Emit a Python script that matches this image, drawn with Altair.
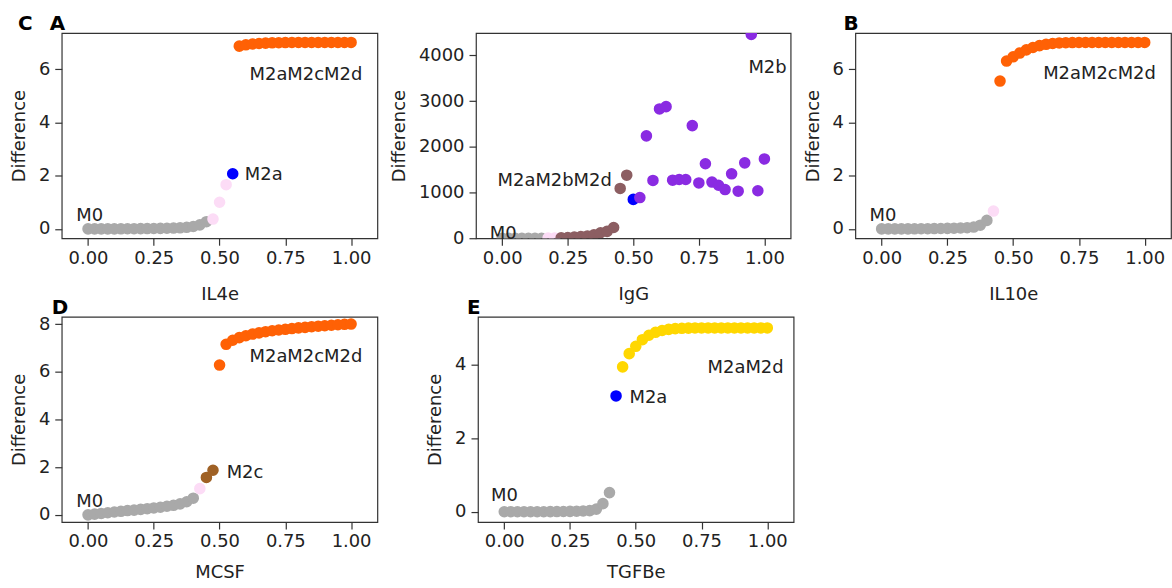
import altair as alt
import pandas as pd

# shared x grid (fraction of stimulus)
X = [0.0, 0.025, 0.05, 0.075, 0.1, 0.125, 0.15, 0.175, 0.2, 0.225, 0.25, 0.275,
     0.3, 0.325, 0.35, 0.375, 0.4, 0.425, 0.45, 0.475, 0.5, 0.525, 0.55, 0.575,
     0.6, 0.625, 0.65, 0.675, 0.7, 0.725, 0.75, 0.775, 0.8, 0.825, 0.85, 0.875,
     0.9, 0.925, 0.95, 0.975, 1.0]

# Panel A : IL4e
IL4_Y = [0.0, 0.0, 0.0, 0.0, 0.002, 0.004, 0.006, 0.008, 0.01, 0.013, 0.016, 0.02,
         0.025, 0.032, 0.042, 0.06, 0.09, 0.15, 0.27,
         0.37, 1.0, 1.66,
         2.07,
         6.86, 6.91, 6.94, 6.96, 6.975, 6.985, 6.99, 6.995,
         7.0, 7.0, 7.0, 7.0, 7.0, 7.0, 7.0, 7.0, 7.0, 7.0]
IL4_C = ["M0"] * 19 + ["T"] * 3 + ["M2a"] + ["M2aM2cM2d"] * 18

# Panel IgG
IGG_Y = [0, 0, 0, 0, 0, 0, 0,
         2, 5,
         10, 15, 25, 35, 50, 75, 120, 150, 235,
         1090, 1380,
         850,
         890, 2240, 1265, 2830, 2880, 1270, 1285, 1285, 2465, 1210, 1630, 1230,
         1160, 1065, 1410, 1030, 1650, 4460, 1040, 1735]
IGG_C = ["M0"] * 7 + ["T"] * 2 + ["M2aM2bM2d"] * 11 + ["M2a"] + ["M2b"] * 20

# Panel B : IL10e
IL10_Y = [0.0, 0.0, 0.0, 0.0, 0.002, 0.004, 0.006, 0.009, 0.012, 0.016, 0.02, 0.026,
          0.034, 0.045, 0.07, 0.14, 0.32,
          0.67,
          5.55, 6.3, 6.46, 6.6, 6.72, 6.81, 6.88, 6.93, 6.96, 6.98, 6.99, 6.995,
          7.0, 7.0, 7.0, 7.0, 7.0, 7.0, 7.0, 7.0, 7.0, 7.0, 7.0]
IL10_C = ["M0"] * 17 + ["T"] + ["M2aM2cM2d"] * 23

# Panel D : MCSF
MCSF_Y = [0.0, 0.03, 0.06, 0.09, 0.12, 0.15, 0.18, 0.2, 0.23, 0.26, 0.29, 0.32,
          0.36, 0.4, 0.46, 0.55, 0.7,
          1.1,
          1.57, 1.87,
          6.28, 7.15, 7.32, 7.43, 7.51, 7.58, 7.63, 7.68, 7.72, 7.75, 7.78, 7.81,
          7.84, 7.86, 7.89, 7.91, 7.93, 7.95, 7.97, 7.99, 8.0]
MCSF_C = ["M0"] * 17 + ["T"] + ["M2c"] * 2 + ["M2aM2cM2d"] * 21

# Panel E : TGFBe
TGF_Y = [0.0, 0.0, 0.0, 0.0, 0.0, 0.0, 0.0, 0.002, 0.004, 0.006, 0.01, 0.015,
         0.02, 0.03, 0.07, 0.22, 0.52,
         3.15,
         3.94, 4.3, 4.5, 4.68, 4.8, 4.88, 4.93, 4.96, 4.98, 4.99, 4.995,
         5.0, 5.0, 5.0, 5.0, 5.0, 5.0, 5.0, 5.0, 5.0, 5.0, 5.0, 5.0]
TGF_C = ["M0"] * 17 + ["M2a"] + ["M2aM2d"] * 23

CATS = ["M0", "T", "M2a", "M2aM2cM2d", "M2b", "M2aM2bM2d", "M2c", "M2aM2d"]
COLS = ["#a9a9a9", "#fcdcf6", "#0000ff", "#ff6105", "#8a2be2", "#8c5e62", "#9f6125", "#ffd700"]

# annotation labels: text, x, y
IL4_LAB = [("M0", -0.045, 0.48), ("M2a", 0.596, 2.03), ("M2aM2cM2d", 0.614, 5.79)]
IGG_LAB = [("M0", -0.047, 100), ("M2b", 0.939, 3725)]
IGG_LAB_R = [("M2aM2bM2d", 0.418, 1248)]
IL10_LAB = [("M0", -0.046, 0.48), ("M2aM2cM2d", 0.614, 5.82)]
MCSF_LAB = [("M0", -0.045, 0.52), ("M2c", 0.527, 1.77), ("M2aM2cM2d", 0.614, 6.6)]
TGF_LAB = [("M0", -0.05, 0.44), ("M2a", 0.476, 3.09), ("M2aM2d", 0.773, 3.91)]

FONT = "DejaVu Sans"
TXT = "#222222"


def panel(xtitle, ys, cats, ydom, yticks, yfmt, labs, labs_r, letters, w, h, xpad):
    df = pd.DataFrame({"x": X, "y": ys, "c": cats})
    xsc = alt.Scale(domain=[-0.1, 1.1], nice=False, zero=False)
    ysc = alt.Scale(domain=ydom, nice=False, zero=False)
    pts = alt.Chart(df).mark_circle(size=135, opacity=1, clip=True).encode(
        x=alt.X("x:Q", scale=xsc,
                axis=alt.Axis(values=[0, 0.25, 0.5, 0.75, 1.0], format=".2f",
                              title=xtitle, titlePadding=xpad, labelPadding=4,
                              labelFlush=False)),
        y=alt.Y("y:Q", scale=ysc,
                axis=alt.Axis(values=yticks, format=yfmt, title="Difference",
                              labelPadding=5, titlePadding=10)),
        color=alt.Color("c:N", scale=alt.Scale(domain=CATS, range=COLS), legend=None),
    )
    layers = [pts]
    for L, al in ((labs, "left"), (labs_r, "right")):
        if not L:
            continue
        ldf = pd.DataFrame({"t": [a[0] for a in L], "x": [a[1] for a in L],
                            "y": [a[2] for a in L]})
        layers.append(
            alt.Chart(ldf).mark_text(align=al, baseline="middle", font=FONT,
                                     fontSize=18, color=TXT).encode(
                x=alt.X("x:Q", scale=xsc), y=alt.Y("y:Q", scale=ysc), text="t:N")
        )
    for letter, px in letters:
        layers.append(
            alt.Chart(pd.DataFrame({"t": [letter]})).mark_text(
                align="left", baseline="alphabetic", font=FONT, fontSize=20,
                fontWeight="bold", color="#000000").encode(
                x=alt.value(px), y=alt.value(-3), text="t:N")
        )
    return alt.layer(*layers).properties(width=w, height=h)


pA = panel("IL4e", IL4_Y, IL4_C, [-0.35, 7.35], [0, 2, 4, 6], "d", IL4_LAB, [],
           [("C", -44), ("A", -12)], 317, 206, 19)
pG = panel("IgG", IGG_Y, IGG_C, [0, 4490], [0, 1000, 2000, 3000, 4000], "d", IGG_LAB,
           IGG_LAB_R, [], 316, 206, 19)
pB = panel("IL10e", IL10_Y, IL10_C, [-0.35, 7.35], [0, 2, 4, 6], "d", IL10_LAB, [],
           [("B", -12)], 317, 206, 19)
pD = panel("MCSF", MCSF_Y, MCSF_C, [-0.3, 8.3], [0, 2, 4, 6, 8], "d", MCSF_LAB, [],
           [("D", -10)], 317, 206, 13)
pE = panel("TGFBe", TGF_Y, TGF_C, [-0.28, 5.3], [0, 2, 4], "d", TGF_LAB, [],
           [("E", -11)], 317, 206, 13)

row1 = alt.hconcat(pA, pG, pB, spacing=11)
row2 = alt.hconcat(pD, pE, spacing=47)
chart = alt.vconcat(row1, row2, spacing=-8).properties(
    padding={"left": 9, "top": 12, "right": 0, "bottom": 0},
    background="white",
).configure_view(stroke="#333333", strokeWidth=1.2).configure_axis(
    labelFont=FONT, labelFontSize=18, labelColor=TXT,
    titleFont=FONT, titleFontSize=18, titleFontWeight="normal", titleColor=TXT,
    tickColor="#333333", tickSize=7, tickWidth=1.2, domain=False, grid=False,
).configure_concat(spacing=11)

chart.save("out.html", embed_options={"renderer": "svg", "actions": False})
